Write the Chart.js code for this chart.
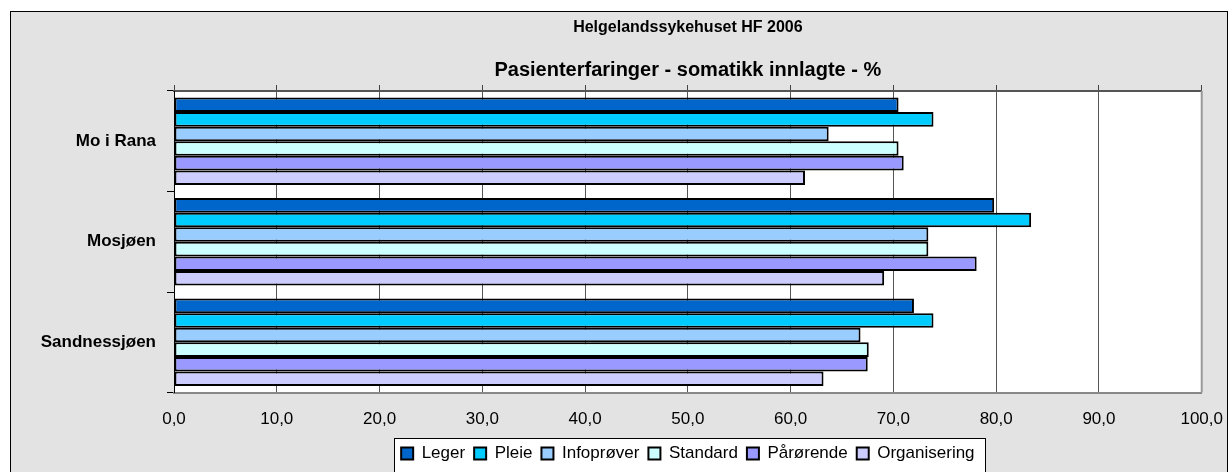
<!DOCTYPE html>
<html>
<head>
<meta charset="utf-8">
<script src="https://cdn.jsdelivr.net/npm/chart.js@4.4.1/dist/chart.umd.min.js"></script>
<style>
    html, body { margin: 0; padding: 0; background: #fff; overflow: hidden; }
    #frame {
        position: absolute; left: 10px; top: 11px;
        width: 1216px; height: 480px;
        border: 1px solid #000; background: #e3e3e3; overflow: hidden;
    }
    #frame canvas { position: absolute; left: 0; top: 0; }
</style>
</head>
<body>
<div id="frame"><canvas id="chart" width="1229" height="460"></canvas></div>
<script>
// data
const categories = ['Mo i Rana', 'Mosjøen', 'Sandnessjøen'];
const leger = [70.5, 79.8, 72.0];
const pleie = [73.9, 83.4, 73.9];
const infoprover = [63.7, 73.4, 66.8];
const standard = [70.5, 73.4, 67.6];
const parorende = [71.0, 78.1, 67.5];
const organisering = [61.4, 69.1, 63.2];

const seriesNames = ['Leger', 'Pleie', 'Infoprøver', 'Standard', 'Pårørende', 'Organisering'];
const seriesColors = ['#0066CC', '#00CCFF', '#99CCFF', '#CCFFFF', '#9999FF', '#CCCCFF'];
const xTickLabels = ['0,0', '10,0', '20,0', '30,0', '40,0', '50,0', '60,0', '70,0', '80,0', '90,0', '100,0'];

const FONT = '"Liberation Sans", Arial, sans-serif';
Chart.defaults.font.family = FONT;
Chart.defaults.color = '#000';

const series = [leger, pleie, infoprover, standard, parorende, organisering];

// white plot area + white framed box behind the legend
const plotBackground = {
    id: 'plotBackground',
    beforeDraw(chart) {
        const { ctx, chartArea: a, legend } = chart;
        ctx.save();
        ctx.fillStyle = '#fff';
        ctx.fillRect(a.left, a.top, a.right - a.left, a.bottom - a.top);

        const boxes = legend.legendHitBoxes;
        if (boxes && boxes.length) {
            const first = boxes[0];
            const last = boxes[boxes.length - 1];
            const left = Math.round(first.left - 7);
            const right = Math.round(last.left + last.width + 10);
            const top = Math.round(first.top + first.height / 2 - 16);
            const h = chart.height - top + 10;
            ctx.fillRect(left, top, right - left, h);
            ctx.strokeStyle = '#000';
            ctx.lineWidth = 1;
            ctx.strokeRect(left + 0.5, top + 0.5, right - left, h);
        }
        ctx.restore();
    },
    afterDraw(chart) {
        const { ctx, chartArea: a } = chart;
        ctx.save();
        ctx.strokeStyle = '#999';
        ctx.lineWidth = 2;
        ctx.beginPath();
        ctx.moveTo(a.right, a.top);
        ctx.lineTo(a.right, a.bottom);
        ctx.stroke();
        ctx.restore();
    }
};

new Chart(document.getElementById('chart'), {
    type: 'bar',
    data: {
        labels: categories,
        datasets: seriesNames.map((name, i) => ({
            label: name,
            data: series[i],
            xAxisID: 'x',
            backgroundColor: seriesColors[i],
            borderColor: '#000',
            borderWidth: 2,
            borderSkipped: false,
            categoryPercentage: 0.87,
            barPercentage: 1.0
        }))
    },
    options: {
        indexAxis: 'y',
        responsive: false,
        animation: false,
        layout: { padding: { left: 0, right: 0, top: 0, bottom: 0 } },
        plugins: {
            title: {
                display: true,
                text: 'Helgelandssykehuset HF 2006',
                fullSize: false,
                color: '#000',
                font: { size: 16, weight: 'bold' },
                padding: { top: 6.4, bottom: 0 }
            },
            subtitle: {
                display: true,
                text: 'Pasienterfaringer - somatikk innlagte - %',
                fullSize: false,
                color: '#000',
                font: { size: 20, weight: 'bold' },
                padding: { top: 20.4, bottom: 3 }
            },
            legend: {
                position: 'bottom',
                fullSize: false,
                labels: {
                    color: '#000',
                    font: { size: 17 },
                    boxWidth: 12,
                    boxHeight: 12,
                    padding: 9
                }
            },
            tooltip: { enabled: false }
        },
        scales: {
            x: {
                position: 'bottom',
                min: 0,
                max: 100,
                ticks: {
                    stepSize: 10,
                    color: '#000',
                    font: { size: 17 },
                    padding: 17,
                    maxRotation: 0,
                    callback: (v, i) => xTickLabels[i]
                },
                grid: { color: '#555', drawTicks: false },
                border: { color: '#888', width: 2 },
                afterFit: scale => { scale.height -= 11; }
            },
            xTop: {
                axis: 'x',
                position: 'top',
                min: 0,
                max: 100,
                ticks: { stepSize: 10, display: false },
                grid: { drawOnChartArea: false, tickLength: 6, color: '#444' },
                border: { color: '#555', width: 2 }
            },
            y: {
                ticks: {
                    color: '#000',
                    font: { size: 17, weight: 'bold' },
                    padding: 11
                },
                grid: { drawOnChartArea: false, tickLength: 7, color: '#000' },
                border: { color: '#000', width: 1 },
                afterFit: scale => { scale.width = 163; }
            }
        }
    },
    plugins: [plotBackground]
});
</script>
</body>
</html>
